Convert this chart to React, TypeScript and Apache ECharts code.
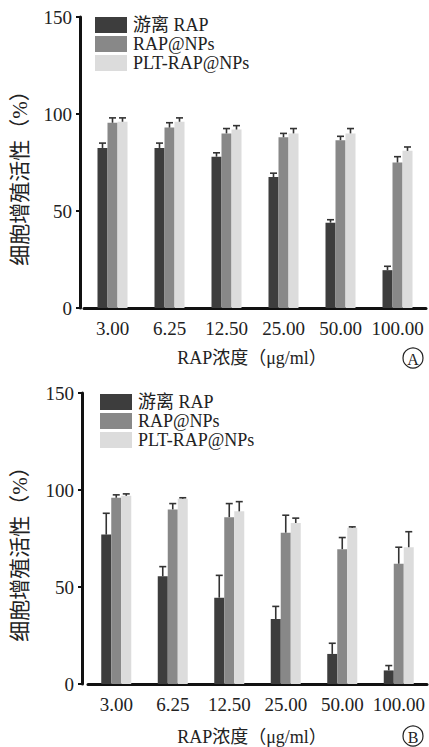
import React, { useEffect, useRef } from "react";
import * as echarts from "echarts";

const categories = ["3.00", "6.25", "12.50", "25.00", "50.00", "100.00"];
const seriesNames = ["游离 RAP", "RAP@NPs", "PLT-RAP@NPs"];

// Panel A (mean, SD)
const aFree = [82.5, 82.5, 78, 67.5, 44, 19.5];
const aFreeSd = [2.5, 2.5, 2, 2, 1.5, 2];
const aNps = [95.5, 93, 90, 88, 86.5, 75];
const aNpsSd = [2.5, 2.5, 2.5, 2, 2, 3];
const aPlt = [96, 96, 92, 90, 90, 81];
const aPltSd = [2, 2, 2, 2.5, 2.5, 2];

// Panel B (mean, SD)
const bFree = [77, 55.5, 44.5, 33.5, 15.5, 7];
const bFreeSd = [11, 5, 11.5, 6.5, 5.5, 2.5];
const bNps = [96, 90, 86, 78, 69.5, 62];
const bNpsSd = [1.5, 3, 7, 9, 6, 8.5];
const bPlt = [97, 95.5, 89, 83, 80.5, 70.5];
const bPltSd = [1, 0.5, 5, 2.5, 0.5, 8];

const colors = ["#3d3d3d", "#888888", "#dcdcdc"];
const SERIF = "'Liberation Serif', 'Noto Sans CJK SC', serif";
const BAR_W = 10;

export default function App() {
  const ref = useRef<HTMLDivElement>(null);
  useEffect(() => {
    document.body.style.margin = "0";
    const chart = echarts.init(ref.current!, undefined, { renderer: "svg" });

    const panels = [
      { vals: [aFree, aNps, aPlt], sds: [aFreeSd, aNpsSd, aPltSd] },
      { vals: [bFree, bNps, bPlt], sds: [bFreeSd, bNpsSd, bPltSd] },
    ];

    const series: any[] = [];
    panels.forEach((p, gi) => {
      p.vals.forEach((vals, si) => {
        series.push({
          type: "bar",
          name: seriesNames[si],
          xAxisIndex: gi,
          yAxisIndex: gi,
          data: vals,
          barWidth: BAR_W,
          barGap: "0%",
          itemStyle: { color: colors[si] },
          z: 2,
        });
      });
      p.vals.forEach((vals, si) => {
        const off = (si - 1) * BAR_W;
        series.push({
          type: "custom",
          xAxisIndex: gi,
          yAxisIndex: gi,
          z: 5,
          data: vals.map((v, i) => [i, v, v + p.sds[si][i]]),
          renderItem: (params: any, api: any) => {
            const x = api.value(0);
            const p0 = api.coord([x, api.value(1)]);
            const p1 = api.coord([x, api.value(2)]);
            const cx = p0[0] + off;
            const st = { stroke: "#333", lineWidth: 1.6 };
            return {
              type: "group",
              children: [
                { type: "line", shape: { x1: cx, y1: p0[1], x2: cx, y2: p1[1] }, style: st },
                { type: "line", shape: { x1: cx - 3.5, y1: p1[1], x2: cx + 3.5, y2: p1[1] }, style: st },
              ],
            };
          },
        });
      });
    });

    const xAxisBase = (gi: number) => ({
      type: "category",
      gridIndex: gi,
      data: categories,
      axisLine: { lineStyle: { color: "#111", width: 3 } },
      axisTick: { alignWithLabel: true, length: 4, lineStyle: { color: "#111", width: 2 } },
      axisLabel: { interval: 0, fontSize: 19, color: "#222", fontFamily: SERIF, margin: 11 },
    });
    const yAxisBase = (gi: number, offset: number) => ({
      type: "value",
      gridIndex: gi,
      min: 0,
      max: 150,
      interval: 50,
      offset,
      splitLine: { show: false },
      axisLine: { show: true, lineStyle: { color: "#111", width: 3 } },
      axisTick: { show: true, length: 4, lineStyle: { color: "#111", width: 2 } },
      axisLabel: { fontSize: 19, color: "#222", fontFamily: SERIF, margin: 8 },
    });

    const legendBase = (left: number, top: number) => ({
      orient: "vertical",
      left,
      top,
      padding: 0,
      itemGap: 1,
      itemWidth: 32,
      itemHeight: 16,
      icon: "rect",
      data: seriesNames,
      selectedMode: false,
      textStyle: { fontSize: 18, color: "#222", fontFamily: SERIF, padding: [0, 0, 0, 1] },
    });

    const yName = "细胞增殖活性（%）";
    const xName = "RAP浓度（μg/ml）";
    const txt = (x: number, y: number, text: string, size: number, rotation = 0) => ({
      type: "text",
      x,
      y,
      rotation,
      style: {
        text,
        fontSize: size,
        fontFamily: SERIF,
        fill: "#222",
        textAlign: "center",
        textVerticalAlign: "middle",
      },
    });
    const circ = (x: number, y: number, letter: string) => [
      { type: "circle", shape: { cx: x, cy: y, r: 10 }, style: { fill: "none", stroke: "#222", lineWidth: 1.2 } },
      txt(x, y + 1, letter, 16),
    ];

    chart.setOption({
      animation: false,
      backgroundColor: "#fff",
      grid: [
        { left: 84, top: 17, right: 3, height: 291 },
        { left: 88, top: 393, right: 2, height: 291 },
      ],
      xAxis: [xAxisBase(0), xAxisBase(1)],
      yAxis: [yAxisBase(0, 4), yAxisBase(1, 6)],
      legend: [legendBase(95, 16), legendBase(100, 393)],
      series,
      graphic: [
        txt(20, 173, yName, 21, Math.PI / 2),
        txt(20, 549, yName, 21, Math.PI / 2),
        txt(252, 358, xName, 18),
        txt(252, 737, xName, 18),
        ...circ(413, 358, "A"),
        ...circ(413, 736, "B"),
      ],
    });
    return () => chart.dispose();
  }, []);
  return <div ref={ref} style={{ position: "fixed", left: 0, top: 0, width: 429, height: 747 }} />;
}
